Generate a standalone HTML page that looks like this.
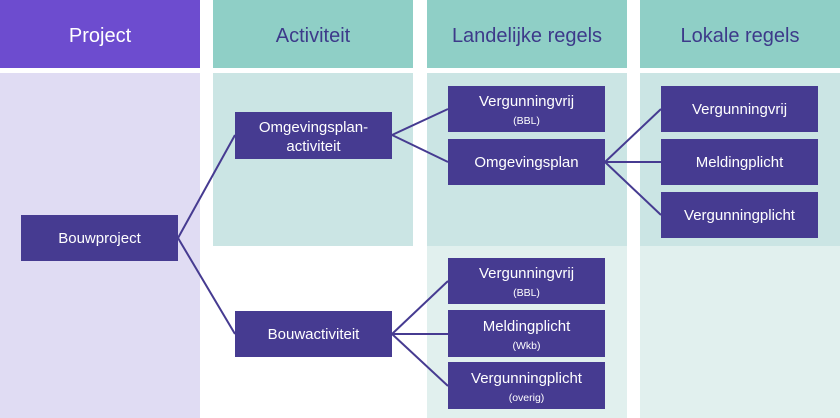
<!DOCTYPE html>
<html><head><style>
html,body{margin:0;padding:0;background:#fff;}
svg{display:block;font-family:"Liberation Sans",sans-serif;}
.b{fill:#463b91;}
.t{fill:#fff;font-size:15px;text-anchor:middle;}
.s{fill:#fff;font-size:10.5px;text-anchor:middle;}
.h{font-size:20px;text-anchor:middle;fill:#3d3a8a;}
line{stroke:#463b91;stroke-width:2;}
</style></head><body>
<svg width="840" height="418" viewBox="0 0 840 418">
<rect x="0" y="0" width="200" height="68" fill="#6d4ccf"/>
<rect x="213" y="0" width="200" height="68" fill="#8fcfc6"/>
<rect x="427" y="0" width="200" height="68" fill="#8fcfc6"/>
<rect x="640" y="0" width="200" height="68" fill="#8fcfc6"/>
<text x="100" y="42" class="h" style="fill:#fff">Project</text>
<text x="313" y="42" class="h">Activiteit</text>
<text x="527" y="42" class="h">Landelijke regels</text>
<text x="740" y="42" class="h">Lokale regels</text>
<rect x="0" y="73" width="200" height="345" fill="#e0dcf3"/>
<rect x="213" y="73" width="200" height="173" fill="#cbe5e4"/>
<rect x="427" y="73" width="200" height="173" fill="#cbe5e4"/>
<rect x="640" y="73" width="200" height="173" fill="#cbe5e4"/>
<rect x="427" y="246" width="200" height="172" fill="#e1f0ee"/>
<rect x="640" y="246" width="200" height="172" fill="#e1f0ee"/>
<line x1="178" y1="238" x2="235" y2="135"/>
<line x1="178" y1="238" x2="235" y2="334"/>
<line x1="392" y1="135" x2="448" y2="109"/>
<line x1="392" y1="135" x2="448" y2="162"/>
<line x1="605" y1="162" x2="661" y2="109"/>
<line x1="605" y1="162" x2="661" y2="162"/>
<line x1="605" y1="162" x2="661" y2="215"/>
<line x1="392" y1="334" x2="448" y2="281"/>
<line x1="392" y1="334" x2="448" y2="334"/>
<line x1="392" y1="334" x2="448" y2="386"/>
<rect class="b" x="21" y="215" width="157" height="46"/>
<text class="t" x="99.5" y="243">Bouwproject</text>
<rect class="b" x="235" y="112" width="157" height="47"/>
<text class="t" x="313.5" y="132">Omgevingsplan-</text>
<text class="t" x="313.5" y="151">activiteit</text>
<rect class="b" x="235" y="311" width="157" height="46"/>
<text class="t" x="313.5" y="339">Bouwactiviteit</text>
<rect class="b" x="448" y="86" width="157" height="46"/>
<text class="t" x="526.5" y="106">Vergunningvrij</text>
<text class="s" x="526.5" y="124">(BBL)</text>
<rect class="b" x="448" y="139" width="157" height="46"/>
<text class="t" x="526.5" y="167">Omgevingsplan</text>
<rect class="b" x="448" y="258" width="157" height="46"/>
<text class="t" x="526.5" y="278">Vergunningvrij</text>
<text class="s" x="526.5" y="296">(BBL)</text>
<rect class="b" x="448" y="310" width="157" height="47"/>
<text class="t" x="526.5" y="331">Meldingplicht</text>
<text class="s" x="526.5" y="349">(Wkb)</text>
<rect class="b" x="448" y="362" width="157" height="47"/>
<text class="t" x="526.5" y="383">Vergunningplicht</text>
<text class="s" x="526.5" y="401">(overig)</text>
<rect class="b" x="661" y="86" width="157" height="46"/>
<text class="t" x="739.5" y="114">Vergunningvrij</text>
<rect class="b" x="661" y="139" width="157" height="46"/>
<text class="t" x="739.5" y="167">Meldingplicht</text>
<rect class="b" x="661" y="192" width="157" height="46"/>
<text class="t" x="739.5" y="220">Vergunningplicht</text>
</svg>
</body></html>
